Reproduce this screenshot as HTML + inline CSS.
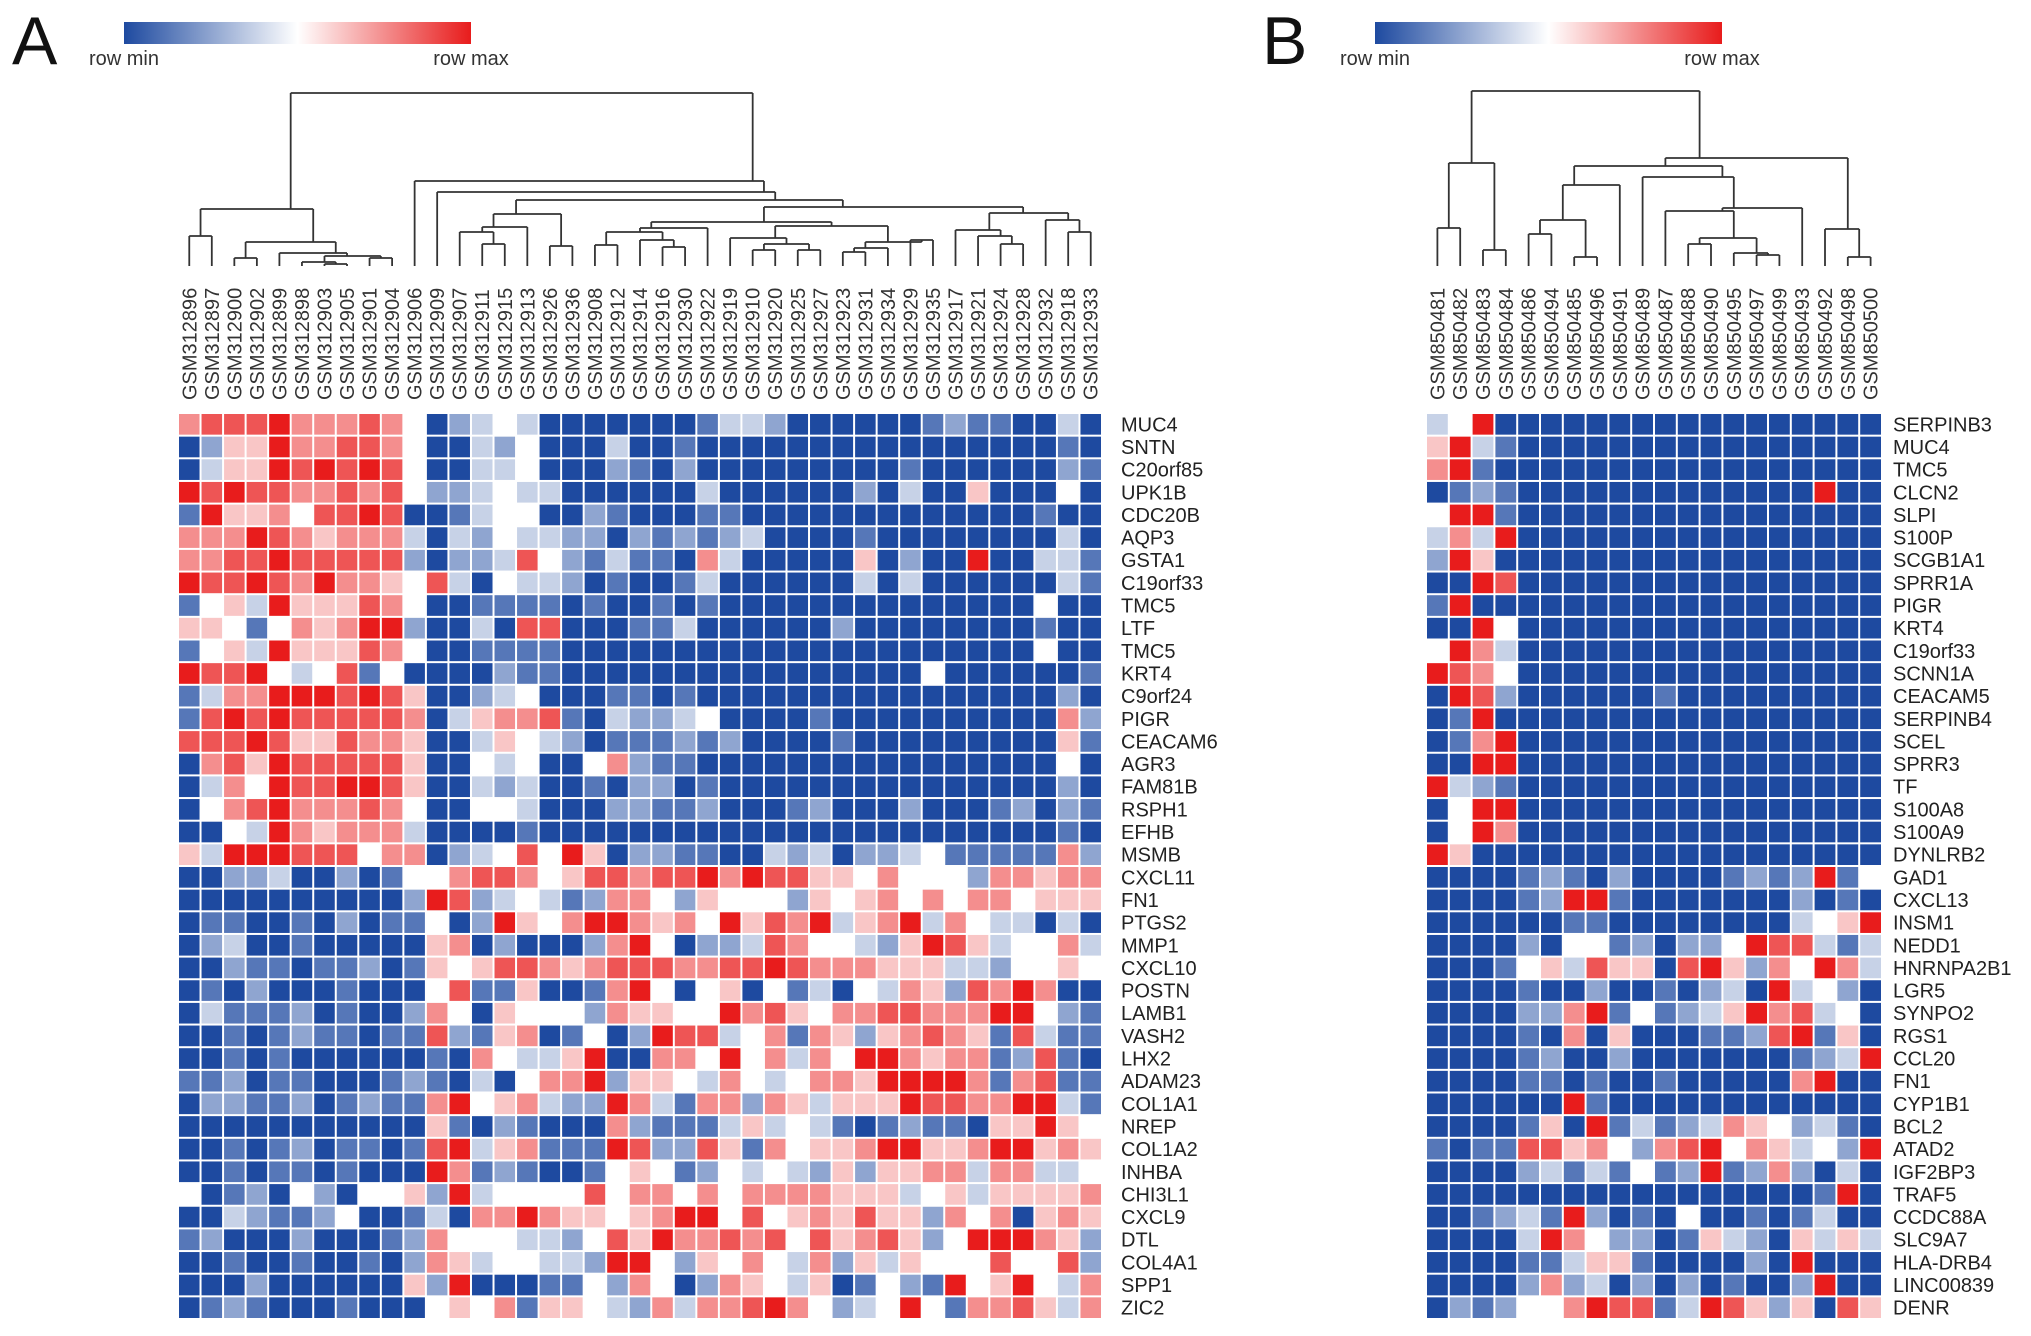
<!DOCTYPE html>
<html><head><meta charset="utf-8">
<style>
html,body{margin:0;padding:0;background:#fff;}
svg{display:block;font-family:"Liberation Sans",sans-serif;}
</style></head>
<body>
<svg id="fig" width="2031" height="1336" viewBox="0 0 2031 1336" xmlns="http://www.w3.org/2000/svg">
<defs>
<linearGradient id="cbar" x1="0" x2="1" y1="0" y2="0">
<stop offset="0" stop-color="#1e4aa0"/><stop offset="0.5" stop-color="#ffffff"/><stop offset="1" stop-color="#e81c1c"/>
</linearGradient>
</defs>
<text x="12" y="64" font-size="68" fill="#111">A</text>
<rect x="124" y="22" width="347" height="22" fill="url(#cbar)"/>
<text x="124" y="65" font-size="20" text-anchor="middle" fill="#333">row min</text>
<text x="471" y="65" font-size="20" text-anchor="middle" fill="#333">row max</text>
<text x="1262" y="64" font-size="68" fill="#111">B</text>
<rect x="1375" y="22" width="347" height="22" fill="url(#cbar)"/>
<text x="1375" y="65" font-size="20" text-anchor="middle" fill="#333">row min</text>
<text x="1722" y="65" font-size="20" text-anchor="middle" fill="#333">row max</text>
<g id="gA"></g>
<g id="gB"></g>
</svg>
<script>
var colsA = ["GSM312896","GSM312897","GSM312900","GSM312902","GSM312899","GSM312898","GSM312903","GSM312905","GSM312901","GSM312904","GSM312906","GSM312909","GSM312907","GSM312911","GSM312915","GSM312913","GSM312926","GSM312936","GSM312908","GSM312912","GSM312914","GSM312916","GSM312930","GSM312922","GSM312919","GSM312910","GSM312920","GSM312925","GSM312927","GSM312923","GSM312931","GSM312934","GSM312929","GSM312935","GSM312917","GSM312921","GSM312924","GSM312928","GSM312932","GSM312918","GSM312933"];
var rowsA = ["MUC4","SNTN","C20orf85","UPK1B","CDC20B","AQP3","GSTA1","C19orf33","TMC5","LTF","TMC5","KRT4","C9orf24","PIGR","CEACAM6","AGR3","FAM81B","RSPH1","EFHB","MSMB","CXCL11","FN1","PTGS2","MMP1","CXCL10","POSTN","LAMB1","VASH2","LHX2","ADAM23","COL1A1","NREP","COL1A2","INHBA","CHI3L1","CXCL9","DTL","COL4A1","SPP1","ZIC2"];
var valsA = [
"67778666764 02343 00000 00133 20000 00121 1003 0",
"02558667764 00324 00030 01000 00000 00000 0001 0",
"03558787874 00334 00021 02000 00000 01000 0002 1",
"87877667674 22343 30000 00300 00002 03005 0004 0",
"18556477870 01344 00210 00110 00000 00000 0010 0",
"66687656663 03243 32202 12123 00001 00000 0003 0",
"66778777772 02237 42131 10630 00005 02008 0033 1",
"87787686654 73043 32010 01300 00003 03000 0003 1",
"14538555764 00111 10100 10100 00000 00000 0040 0",
"55414656882 00307 70001 13000 00020 00000 0010 0",
"14538555764 00111 10000 00000 00000 00000 0040 0",
"87784347140 00021 10000 00000 00000 00400 0000 1",
"13668887875 00234 00011 01000 00000 00000 0002 0",
"17878777776 03566 71032 23400 00100 00000 0006 2",
"77787557665 00354 32011 12120 00010 00000 0005 1",
"06758777775 00434 00462 11000 00000 00000 0004 0",
"03648778875 00323 00102 20100 00000 00000 0002 0",
"04678666764 00443 00022 11200 01200 02000 1202 1",
"00438656663 00001 00000 00000 00000 00000 0001 0",
"53888777466 02347 48502 21100 32302 23411 1116 2",
"00223002014 46776 45776 77868 77554 64442 6656 6",
"00000000002 87234 31266 42544 42545 64646 6455 5",
"01100102011 40285 46886 56485 76835 68364 3303 0",
"02300100000 56020 00268 40223 76443 25875 3446 3",
"00211011201 54577 65677 76677 87666 55533 2445 4",
"01020001000 47115 00168 40450 41304 36527 6860 0",
"03111201002 64054 44265 54486 75466 77666 8842 1",
"00101211011 72156 01402 87734 61652 56765 1731 1",
"00101000000 10643 35800 66484 63648 86566 1271 0",
"11201100012 10304 66825 54364 34665 88886 1671 1",
"02211201211 68456 32286 31662 65355 58776 6883 1",
"00000000000 51021 00062 11135 34310 12110 5585 4",
"00101201101 78356 11187 22751 64556 88556 8856 5",
"00101101000 86121 00145 41243 43252 55663 6633 4",
"40120420445 28344 44746 64646 66655 53453 5555 6",
"00321124001 30668 65545 68847 45657 55264 6056 5",
"12000200012 64443 32475 86676 74756 75248 8865 2",
"00100100102 65344 33288 42546 43625 35444 7447 2",
"00020000005 28000 11426 40265 43501 42184 5843 6",
"01210001000 45461 55432 63667 86423 48416 6753 6"
];
var colsB = ["GSM850481","GSM850482","GSM850483","GSM850484","GSM850486","GSM850494","GSM850485","GSM850496","GSM850491","GSM850489","GSM850487","GSM850488","GSM850490","GSM850495","GSM850497","GSM850499","GSM850493","GSM850492","GSM850498","GSM850500"];
var rowsB = ["SERPINB3","MUC4","TMC5","CLCN2","SLPI","S100P","SCGB1A1","SPRR1A","PIGR","KRT4","C19orf33","SCNN1A","CEACAM5","SERPINB4","SCEL","SPRR3","TF","S100A8","S100A9","DYNLRB2","GAD1","CXCL13","INSM1","NEDD1","HNRNPA2B1","LGR5","SYNPO2","RGS1","CCL20","FN1","CYP1B1","BCL2","ATAD2","IGF2BP3","TRAF5","CCDC88A","SLC9A7","HLA-DRB4","LINC00839","DENR"];
var valsB = [
"3480 0000000000000000","5831 0000000000000000","6810 0000000000000000","0121 0000000000000800",
"4881 0000000000000000","3638 0000000000000000","2850 0000000000000000","0087 0000000000000000",
"1800 0000000000000000","0084 0000000000000000","4863 0000000000000000","8764 0000000000000000",
"0872 0000001000000000","0180 0000000000000000","0168 0000000000000000","0088 0000000000000000",
"8321 0000000000000000","0488 0000000000000000","0486 0000000000000000","8500 0000000000000000",
"0000 1210200001212814","0000 1288100000002010","0000 0011000000003458","0000 2044120224877313",
"0001 4537550785264863","0000 1002001023083420","0000 2268141235867340","0000 1060500011278150",
"0000 1200200000001238","0000 1101001000006800","0000 0081000000000000","0000 1508131236542310",
"1011 7756426784653428","0000 2313141281262030","0000 0000000000000180","0012 3182010400101300",
"0000 3864220153205353","0000 1135510000208000","0000 2623020201002800","0212 4468771387525075"
];
// dendrogram merge heights (node = [height, left, right], leaf = column index)
var treeA = [93,
  [209,[236,0,1],[242,[258,2,3],[253,4,[256,[262,5,[264,6,7]],[258,8,9]]]]],
  [181,10,[192,11,[200,
    [214,[227,[232,12,[244,13,14]],15],[246,16,17]],
    [207,[222,[228,[232,[245,18,19],[240,20,[247,21,22]]],23],
              [226,[238,24,[244,[250,25,26],[250,27,28]]],[242,[248,[252,29,30],31],[240,32,33]]]],
         [213,[230,34,[236,35,[244,36,37]]],[220,38,[232,39,40]]]]]]]];
var treeB = [91,
  [163,[228,0,1],[250,2,3]],
  [158,[166,[185,[220,[234,4,5],[257,6,7]],8],[177,9,[208,[211,10,[238,[244,11,12],[253,13,[255,14,15]]]],16]]],
       [229,17,[257,18,19]]]];

var NS = "http://www.w3.org/2000/svg";
function colorOf(v){
  var t = v/8, c;
  var b=[30,74,160], w=[255,255,255], r=[232,28,28];
  if(t<0.5){var s=t*2; c=[0,1,2].map(function(i){return Math.round(b[i]+(w[i]-b[i])*s);});}
  else {var s2=(t-0.5)*2; c=[0,1,2].map(function(i){return Math.round(w[i]+(r[i]-w[i])*s2);});}
  return "rgb("+c.join(",")+")";
}
function drawPanel(g, cols, rows, vals, tree, x0, x1, y0, y1, labelX){
  var nC = cols.length, nR = rows.length;
  var cw = (x1-x0)/nC, rh = (y1-y0)/nR;
  function xc(i){return x0 + (i+0.5)*cw;}
  function yr(j){return y0 + j*rh;}
  for(var j=0;j<nR;j++){
    var rowStr = vals[j].replace(/ /g,"");
    for(var i=0;i<nC;i++){
      var v = +rowStr.charAt(i);
      var r = document.createElementNS(NS,"rect");
      r.setAttribute("x",(x0+i*cw+1).toFixed(2));
      r.setAttribute("y",(yr(j)+1).toFixed(2));
      r.setAttribute("width",(cw-2).toFixed(2));
      r.setAttribute("height",(rh-2).toFixed(2));
      r.setAttribute("fill",colorOf(v));
      
      
      g.appendChild(r);
    }
    var t = document.createElementNS(NS,"text");
    t.setAttribute("x",labelX);
    t.setAttribute("y",(yr(j)+rh/2+7).toFixed(2));
    t.setAttribute("font-size","20");
    t.setAttribute("fill","#222");
    t.textContent = rows[j];
    
    
    g.appendChild(t);
  }
  for(var i=0;i<nC;i++){
    var t2 = document.createElementNS(NS,"text");
    var cx = xc(i)+7;
    t2.setAttribute("transform","translate("+cx.toFixed(2)+",400) rotate(-90)");
    t2.setAttribute("font-size","20");
    t2.setAttribute("fill","#333");
    t2.textContent = cols[i];
    
    
    g.appendChild(t2);
  }
  var leafTop = 266;
  function line(xa,ya,xb,yb){
    var l = document.createElementNS(NS,"line");
    l.setAttribute("x1",xa.toFixed(2));l.setAttribute("y1",ya);
    l.setAttribute("x2",xb.toFixed(2));l.setAttribute("y2",yb);
    l.setAttribute("stroke","#333");l.setAttribute("stroke-width","1.8");
    
    
    g.appendChild(l);
  }
  // node x = mean of its leaf positions
  function walk(n){
    if(typeof n === "number") return {x:xc(n), y:leafTop, sum:xc(n), cnt:1};
    var a = walk(n[1]), b = walk(n[2]), h = n[0];
    line(a.x,h,a.x,a.y); line(b.x,h,b.x,b.y); line(a.x,h,b.x,h);
    var s = a.sum+b.sum, c = a.cnt+b.cnt;
    return {x:s/c, y:h, sum:s, cnt:c};
  }
  walk(tree);
}
drawPanel(document.getElementById("gA"), colsA, rowsA, valsA, treeA, 178, 1102, 413, 1319, 1121);
drawPanel(document.getElementById("gB"), colsB, rowsB, valsB, treeB, 1426, 1882, 413, 1319, 1893);
</script>
</body></html>
